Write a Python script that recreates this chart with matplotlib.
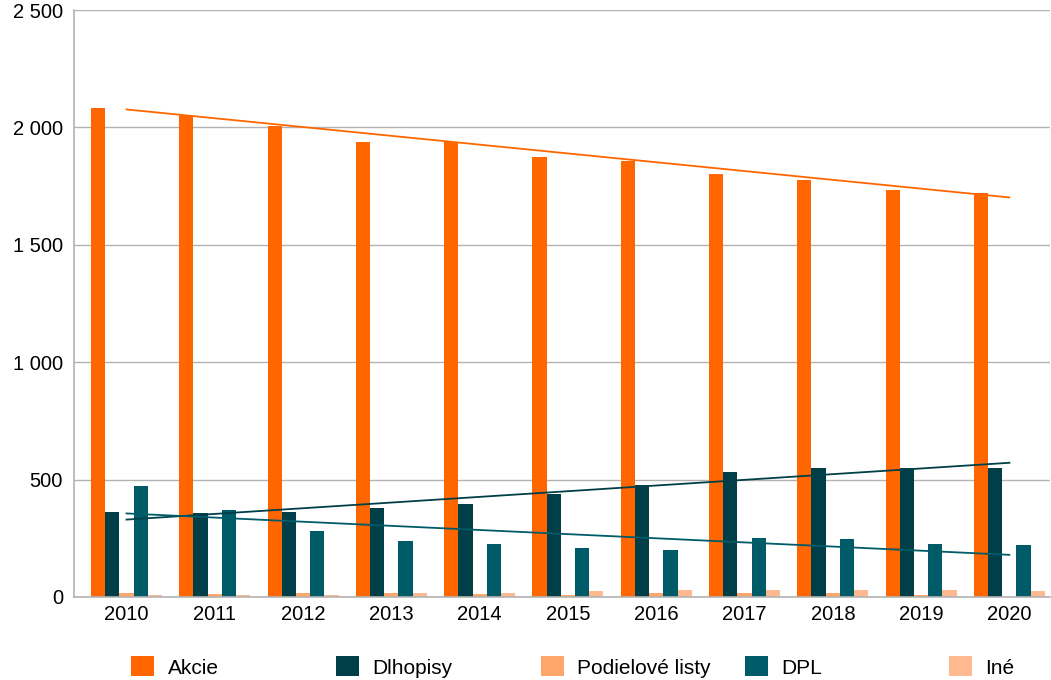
import numpy as np
import matplotlib
matplotlib.use("Agg")
import matplotlib.pyplot as plt
from matplotlib.patches import Patch

plt.rcParams['font.family'] = ['Liberation Sans', 'DejaVu Sans']

years = ["2010", "2011", "2012", "2013", "2014", "2015", "2016", "2017", "2018", "2019", "2020"]
akcie = [2083, 2054, 2004, 1936, 1939, 1875, 1855, 1802, 1777, 1734, 1721]
dlhopisy = [362, 358, 362, 379, 396, 440, 477, 533, 550, 550, 550]
podielove = [17, 13, 17, 17, 13, 9, 17, 17, 17, 9, 0]
dpl = [473, 371, 281, 239, 226, 209, 200, 251, 247, 226, 222]
ine = [9, 9, 9, 17, 17, 26, 30, 30, 30, 30, 26]

series = [
    ("Akcie", akcie, "#FF6600"),
    ("Dlhopisy", dlhopisy, "#003F47"),
    ("Podielové listy", podielove, "#FFA66B"),
    ("DPL", dpl, "#005B69"),
    ("Iné", ine, "#FFB991"),
]
trend_series = [(akcie, "#FF6600"), (dlhopisy, "#003F47"), (dpl, "#005B69")]

W, H = 1051, 680
fig = plt.figure(figsize=(W / 100, H / 100), dpi=100)
ax = fig.add_axes([74 / W, 1 - 597 / H, (1050 - 74) / W, (597 - 10) / H])

x = np.arange(len(years))
bw = 0.161
for i, (name, vals, col) in enumerate(series):
    ax.bar(x + (i - 2) * bw, vals, width=bw, color=col, linewidth=0, zorder=2)

for vals, col in trend_series:
    k, b = np.polyfit(x, vals, 1)
    ax.plot([x[0], x[-1]], [k * x[0] + b, k * x[-1] + b], color=col, lw=1.3, zorder=3)

ax.set_ylim(0, 2500)
ax.set_xlim(-0.595, 10.46)
yt = [0, 500, 1000, 1500, 2000, 2500]
ax.set_yticks(yt)
ax.set_yticklabels([f"{v:,}".replace(",", " ") for v in yt])
ax.set_xticks(x)
ax.set_xticklabels(years)
ax.tick_params(axis='both', length=0, labelsize=14.5, colors="#000000")
ax.tick_params(axis='y', pad=8)
ax.tick_params(axis='x', pad=6)
ax.grid(axis='y', color="#b3b3b3", lw=1.0, zorder=0)
ax.set_axisbelow(True)
for s in ["top", "right"]:
    ax.spines[s].set_visible(False)
for s in ["left", "bottom"]:
    ax.spines[s].set_color("#b3b3b3")
    ax.spines[s].set_linewidth(1.2)

legend_x = [131, 336, 541, 745, 949]
for (name, vals, col), lx in zip(series, legend_x):
    fig.legend(handles=[Patch(facecolor=col, edgecolor='none')], labels=[name],
               loc='center left', bbox_to_anchor=(lx / W, 1 - 667 / H),
               frameon=False, fontsize=15, handlelength=1.1, handleheight=1.1,
               handletextpad=0.65, borderaxespad=0, borderpad=0)

fig.savefig("out.png", dpi=100)
